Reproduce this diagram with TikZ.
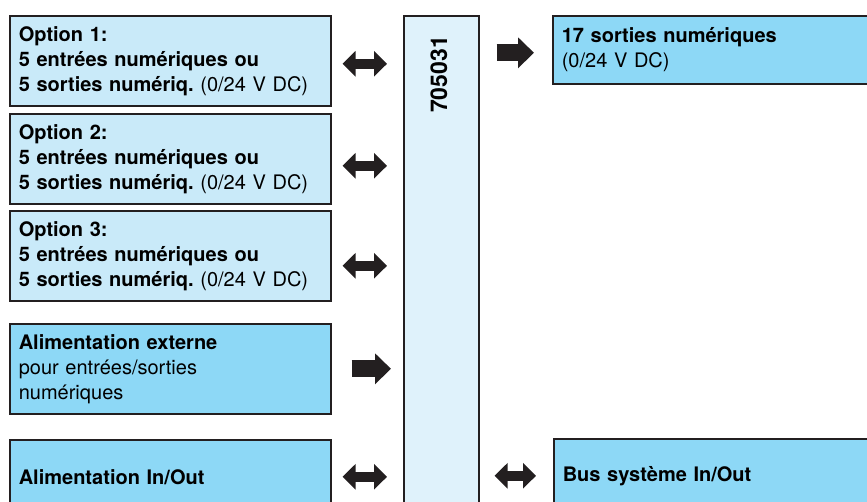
\documentclass[tikz,border=0pt]{standalone}
\usepackage{fontspec}
\setmainfont{TeX Gyre Heros}
\usetikzlibrary{arrows.meta, positioning}

\definecolor{boxline}{HTML}{231F20}
\definecolor{optfill}{HTML}{C9EAF9}
\definecolor{supfill}{HTML}{8DD8F6}
\definecolor{modfill}{HTML}{DFF2FB}

\tikzset{
  blk/.style={draw=boxline, line width=1.6pt, anchor=north west, inner xsep=9pt,
    inner ysep=0pt, align=left, font=\fontsize{20}{25}\selectfont\frenchspacing},
  optbox/.style={blk, fill=optfill, minimum width=321pt, minimum height=90pt, text width=303pt},
  supbox/.style={blk, fill=supfill},
  bidir/.style={boxline, line width=10pt, shorten <=11pt, shorten >=16pt,
    {Triangle[length=13pt,width=25pt]}-{Triangle[length=13pt,width=25pt]}},
  onedir/.style={boxline, line width=17pt, -{Triangle[length=16pt,width=30pt]}},
}

\begin{document}
\begin{tikzpicture}[x=1pt, y=-1pt]
\clip (0,0) rectangle (867,502);
\fill[white] (0,0) rectangle (867,502);

% Module
\node[blk, fill=modfill, minimum width=75pt, minimum height=520pt, inner xsep=0pt] (mod) at (403,15) {};
\node[font=\fontsize{23}{25}\selectfont\bfseries, rotate=90, anchor=east, inner sep=0pt] (ref) at (439,36) {705031};

% Options
\node[optbox] (opt1) at (9,15) {\textbf{Option 1:}\\\textbf{5 entrées numériques ou}\\\textbf{5 sorties numériq.} (0/24 V DC)};
\node[optbox] (opt2) at (9,113) {\textbf{Option 2:}\\\textbf{5 entrées numériques ou}\\\textbf{5 sorties numériq.} (0/24 V DC)};
\node[optbox] (opt3) at (9,210) {\textbf{Option 3:}\\\textbf{5 entrées numériques ou}\\\textbf{5 sorties numériq.} (0/24 V DC)};

% Power supplies
\node[supbox, minimum width=321pt, minimum height=90pt, text width=303pt] (ext) at (9,323) {\textbf{Alimentation externe}\\pour entrées/sorties\\numériques};
\node[supbox, minimum width=321pt, minimum height=74pt, text width=303pt] (alim) at (9,439) {\textbf{Alimentation In/Out}};

% Outputs and bus
\node[supbox, minimum width=340pt, minimum height=68pt, text width=322pt] (outs) at (552,15) {\textbf{17 sorties numériques}\\(0/24 V DC)};
\node[supbox, minimum width=340pt, minimum height=74pt, text width=322pt] (bus) at (553,438) {\textbf{Bus système In/Out}};

% Arrows
\draw[bidir] ([yshift=-3pt]opt1.east) -- ([yshift=-3pt]opt1.east -| mod.west);
\draw[bidir] ([yshift=-7pt]opt2.east) -- ([yshift=-7pt]opt2.east -| mod.west);
\draw[bidir] ([yshift=-10pt]opt3.east) -- ([yshift=-10pt]opt3.east -| mod.west);
\draw[onedir, shorten <=20pt, shorten >=12pt] (ext.east) -- (ext.east -| mod.west);
\draw[bidir] (alim.east) -- (alim.east -| mod.west);
\draw[onedir, shorten <=17pt, shorten >=18pt] ([yshift=-3pt]mod.east |- outs.west) -- ([yshift=-3pt]outs.west);
\draw[bidir, shorten <=15pt, shorten >=17pt] (mod.east |- bus.west) -- (bus.west);
\end{tikzpicture}
\end{document}
